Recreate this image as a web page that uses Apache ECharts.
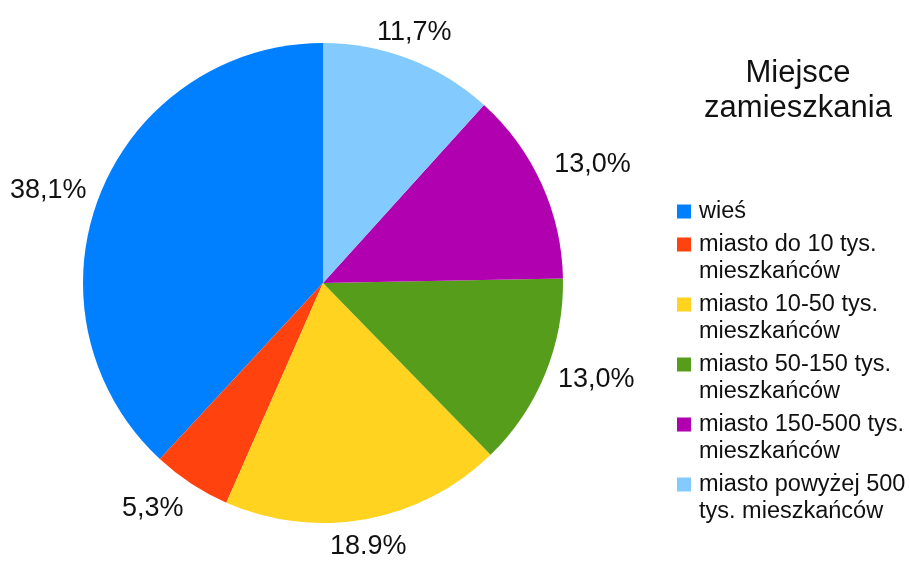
<!DOCTYPE html>
<html>
<head>
<meta charset="utf-8">
<script src="https://cdn.jsdelivr.net/npm/echarts@6/dist/echarts.min.js"></script>
<style>
html,body{margin:0;padding:0;background:#fff;}
#chart{width:910px;height:561px;}
</style>
</head>
<body>
<div id="chart"></div>
<script>
// Data
var categories = [
  "wieś",
  "miasto do 10 tys.\nmieszkańców",
  "miasto 10-50 tys.\nmieszkańców",
  "miasto 50-150 tys.\nmieszkańców",
  "miasto 150-500 tys.\nmieszkańców",
  "miasto powyżej 500\ntys. mieszkańców"
];
var values = [38.1, 5.3, 18.9, 13.0, 13.0, 11.7];
var valueLabels = ["38,1%", "5,3%", "18.9%", "13,0%", "13,0%", "11,7%"];
var colors = ["#0080ff", "#ff420e", "#ffd320", "#579d1c", "#b000b0", "#83caff"];
var titleText = "Miejsce\nzamieszkania";

var FONT = "'Liberation Sans', Arial, sans-serif";
var TEXT = "#111111";

var chart = echarts.init(document.getElementById('chart'), null, {renderer: 'canvas'});

var pieData = categories.map(function (c, i) {
  return {name: c, value: values[i], itemStyle: {color: colors[i]}};
});

var legendData = categories.map(function (c, i) {
  var twoLine = c.indexOf("\n") >= 0;
  return {
    name: c,
    icon: twoLine ? 'path://M0,0H14V14H0Z M0,41H14Z' : 'path://M0,0H14V14H0Z',
    symbolKeepAspect: true,
    itemStyle: {color: colors[i]}
  };
});

// distance of the label anchor beyond the pie edge
var LABEL_OFFSET = 14;
var OCT = Math.cos(67.5 * Math.PI / 180);

chart.setOption({
  animation: false,
  backgroundColor: '#ffffff',
  title: {
    text: titleText,
    left: 798,
    top: 56,
    textAlign: 'center',
    padding: 0,
    textStyle: {
      fontFamily: FONT,
      fontSize: 31,
      lineHeight: 35,
      fontWeight: 'normal',
      color: TEXT
    }
  },
  legend: {
    orient: 'vertical',
    left: 677,
    top: 198,
    padding: 0,
    itemWidth: 14,
    itemHeight: 41,
    itemGap: 6,
    selectedMode: false,
    data: legendData,
    textStyle: {
      fontFamily: FONT,
      fontSize: 23.5,
      lineHeight: 27,
      color: TEXT,
      padding: [0, 0, 0, 3]
    }
  },
  series: [{
    type: 'pie',
    center: [323, 283],
    radius: 240,
    startAngle: 90,
    clockwise: false,
    avoidLabelOverlap: false,
    silent: true,
    emphasis: {disabled: true, scale: false},
    itemStyle: {borderWidth: 0},
    data: pieData,
    label: {
      show: true,
      position: 'outside',
      fontFamily: FONT,
      fontSize: 27,
      color: TEXT,
      formatter: function (p) { return valueLabels[p.dataIndex]; }
    },
    labelLine: {
      show: true,
      length: 10,
      length2: 0,
      lineStyle: {opacity: 0, width: 0}
    },
    labelLayout: function (p) {
      var pts = p.labelLinePoints;
      if (!pts || pts.length < 2) return {};
      var ex = pts[0][0], ey = pts[0][1];
      var nx = pts[1][0] - ex, ny = pts[1][1] - ey;
      var len = Math.sqrt(nx * nx + ny * ny) || 1;
      nx /= len; ny /= len;
      var w = p.labelRect.width, h = p.labelRect.height;
      var ax = nx > OCT ? 1 : (nx < -OCT ? -1 : 0);
      var ay = ny > OCT ? 1 : (ny < -OCT ? -1 : 0);
      var px = ex + nx * LABEL_OFFSET, py = ey + ny * LABEL_OFFSET;
      return {
        x: px + ax * w / 2,
        y: py + ay * h / 2,
        align: 'center',
        verticalAlign: 'middle'
      };
    }
  }]
});
</script>
</body>
</html>
